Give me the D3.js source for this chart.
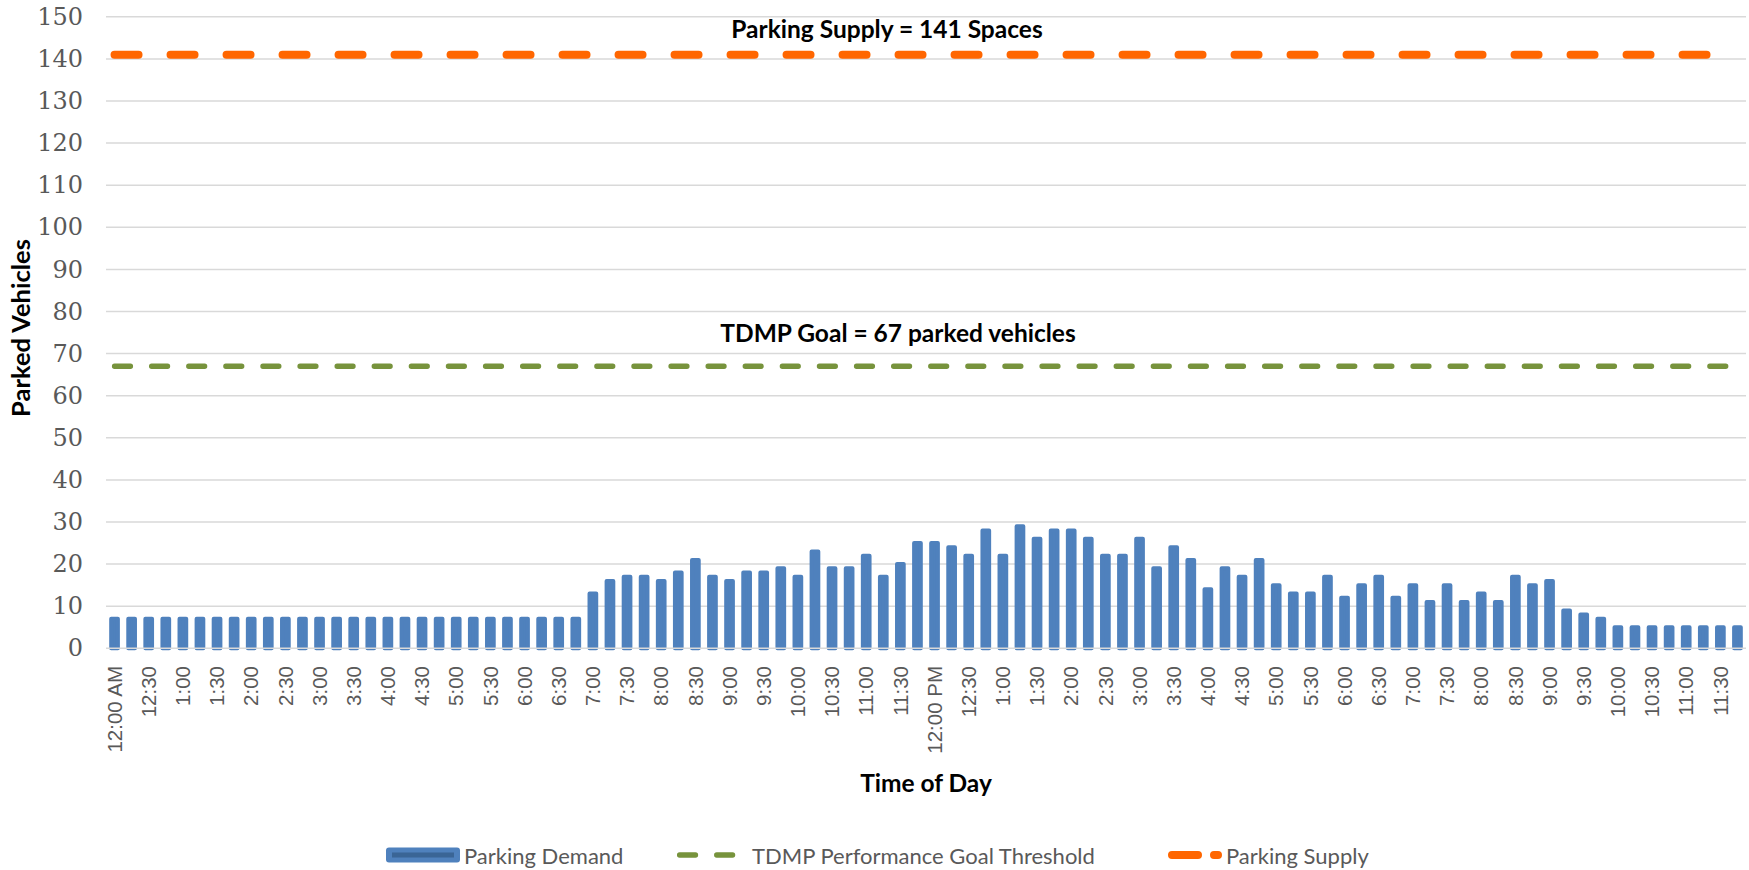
<!DOCTYPE html>
<html>
<head>
<meta charset="utf-8">
<script src="https://cdn.jsdelivr.net/npm/d3@7"></script>
<style>
  body { margin: 0; background: #ffffff; }
  svg { display: block; }
</style>
</head>
<body>
<svg class="chart"></svg>
<script>
// 15 minute counts, 12:00 AM through 11:45 PM
var demand = [7, 7, 7, 7, 7, 7, 7, 7, 7, 7, 7, 7, 7, 7, 7, 7, 7, 7, 7, 7, 7, 7, 7, 7, 7, 7, 7, 7,
  13, 16, 17, 17, 16, 18, 21, 17, 16, 18, 18, 19, 17, 23, 19, 19, 22, 17, 20, 25,
  25, 24, 22, 28, 22, 29, 26, 28, 28, 26, 22, 22, 26, 19, 24, 21, 14, 19, 17, 21,
  15, 13, 13, 17, 12, 15, 17, 12, 15, 11, 15, 11, 13, 11, 17, 15, 16, 9, 8, 7,
  5, 5, 5, 5, 5, 5, 5, 5]

// one label every other bar (every 30 min)
var tickLabels = ["12:00 AM", "12:30", "1:00", "1:30", "2:00", "2:30", "3:00", "3:30", "4:00", "4:30",
  "5:00", "5:30", "6:00", "6:30", "7:00", "7:30", "8:00", "8:30", "9:00", "9:30", "10:00", "10:30",
  "11:00", "11:30", "12:00 PM", "12:30", "1:00", "1:30", "2:00", "2:30", "3:00", "3:30", "4:00",
  "4:30", "5:00", "5:30", "6:00", "6:30", "7:00", "7:30", "8:00", "8:30", "9:00", "9:30", "10:00",
  "10:30", "11:00", "11:30"]

var yTicks = [0, 10, 20, 30, 40, 50, 60, 70, 80, 90, 100, 110, 120, 130, 140, 150]

var goalValue = 67
var supplyValue = 141

var seriesNames = ["Parking Demand", "TDMP Performance Goal Threshold", "Parking Supply"]
var goalLabel = "TDMP Goal = 67 parked vehicles"
var supplyLabel = "Parking Supply = 141 Spaces"

var blue = "#4F81BD"
var green = "#77933C"
var orange = "#FF6600"
var grid = "#D9D9D9"
var gray = "#595959"

var screen = { width: 1749, height: 870 }
var plot = { left: 106, right: 1746, top: 16.8, bottom: 648.3 }

var svg = d3.select(".chart")
  .attr("width", screen.width)
  .attr("height", screen.height)

var x = d3.scaleBand()
  .domain(d3.range(demand.length))
  .range([plot.left, plot.right])

var y = d3.scaleLinear()
  .domain([0, 150])
  .range([plot.bottom, plot.top])

var center = function(i) { return x(i) + x.bandwidth() / 2 }

// gridlines (not the zero line, that one goes over the bars)
svg.append("g")
  .selectAll("line")
  .data(yTicks.filter(function(d) { return d > 0 }))
  .enter()
  .append("line")
  .attr("x1", plot.left)
  .attr("x2", plot.right)
  .attr("y1", function(d) { return y(d) })
  .attr("y2", function(d) { return y(d) })
  .attr("stroke", grid)
  .attr("stroke-width", 1.5)

// y axis labels
var yAxis = svg.append("g")
  .attr("transform", "translate(" + plot.left + ",0)")
  .call(d3.axisLeft(y).tickValues(yTicks).tickSize(0).tickPadding(23))
yAxis.select(".domain").remove()
yAxis.selectAll("text")
  .attr("font-family", "DejaVu Serif")
  .attr("font-size", 24)
  .attr("fill", gray)

// demand bars
var barW = 6.7
svg.append("g")
  .selectAll("rect")
  .data(demand)
  .enter()
  .append("rect")
  .attr("x", function(d, i) { return center(i) - barW / 2 })
  .attr("width", barW)
  .attr("y", function(d) { return y(d) })
  .attr("height", function(d) { return y(0) - y(d) })
  .attr("fill", blue)
  .attr("stroke", blue)
  .attr("stroke-width", 4)
  .attr("stroke-linejoin", "round")

svg.append("line")
  .attr("x1", plot.left)
  .attr("x2", plot.right)
  .attr("y1", y(0))
  .attr("y2", y(0))
  .attr("stroke", grid)
  .attr("stroke-width", 1.5)

// dashed reference lines
var refLine = function(value, color, w) {
  svg.append("line")
    .attr("x1", center(0))
    .attr("x2", center(demand.length - 1))
    .attr("y1", y(value))
    .attr("y2", y(value))
    .attr("stroke", color)
    .attr("stroke-width", w)
    .attr("stroke-linecap", "round")
    .attr("stroke-dasharray", (3 * w) + "," + (4 * w))
}
refLine(goalValue, green, 5.3)
refLine(supplyValue, orange, 8)

svg.append("text")
  .attr("x", 887)
  .attr("y", y(supplyValue) - 16.5)
  .attr("text-anchor", "middle")
  .attr("font-family", "Lato")
  .attr("font-weight", "bold")
  .attr("font-size", 24.5)
  .text(supplyLabel)

svg.append("text")
  .attr("x", 898)
  .attr("y", y(goalValue) - 24.5)
  .attr("text-anchor", "middle")
  .attr("font-family", "Lato")
  .attr("font-weight", "bold")
  .attr("font-size", 24.5)
  .text(goalLabel)

// x axis labels, rotated
var xAxis = svg.append("g")
  .attr("transform", "translate(0," + y(0) + ")")
  .call(d3.axisBottom(x)
    .tickValues(d3.range(0, demand.length, 2))
    .tickFormat(function(i) { return tickLabels[i / 2] })
    .tickSize(0))
xAxis.select(".domain").remove()
xAxis.selectAll("text")
  .attr("transform", "rotate(-90)")
  .attr("x", -17.7)
  .attr("y", 0)
  .attr("dy", "0.35em")
  .attr("text-anchor", "end")
  .attr("font-family", "Liberation Sans")
  .attr("font-size", 20.5)
  .attr("fill", gray)

// axis titles
svg.append("text")
  .attr("transform", "translate(20,328) rotate(-90)")
  .attr("text-anchor", "middle")
  .attr("dominant-baseline", "central")
  .attr("font-family", "Lato")
  .attr("font-weight", "bold")
  .attr("font-size", 25.5)
  .text("Parked Vehicles")

svg.append("text")
  .attr("x", (plot.left + plot.right) / 2)
  .attr("y", 792)
  .attr("text-anchor", "middle")
  .attr("font-family", "Lato")
  .attr("font-weight", "bold")
  .attr("font-size", 24.5)
  .text("Time of Day")

// legend
var legY = 855
var legend = svg.append("g")

legend.append("rect")
  .attr("x", 386).attr("y", legY - 7.5)
  .attr("width", 74).attr("height", 15)
  .attr("rx", 3)
  .attr("fill", blue)
legend.append("rect")
  .attr("x", 392).attr("y", legY - 2.5)
  .attr("width", 62).attr("height", 5)
  .attr("fill", "#3A6596")

legend.append("line")
  .attr("x1", 679.6).attr("x2", 733)
  .attr("y1", legY).attr("y2", legY)
  .attr("stroke", green)
  .attr("stroke-width", 5.3)
  .attr("stroke-linecap", "round")
  .attr("stroke-dasharray", "15.9,21.2")

legend.append("line")
  .attr("x1", 1172).attr("x2", 1218)
  .attr("y1", legY).attr("y2", legY)
  .attr("stroke", orange)
  .attr("stroke-width", 8)
  .attr("stroke-linecap", "round")
  .attr("stroke-dasharray", "26,16")

var legText = [464, 752, 1226]
legend.selectAll("text")
  .data(seriesNames)
  .enter()
  .append("text")
  .attr("x", function(d, i) { return legText[i] })
  .attr("y", legY)
  .attr("dominant-baseline", "central")
  .attr("font-family", "Lato")
  .attr("font-size", 22)
  .attr("fill", gray)
  .text(function(d) { return d })
</script>
</body>
</html>
